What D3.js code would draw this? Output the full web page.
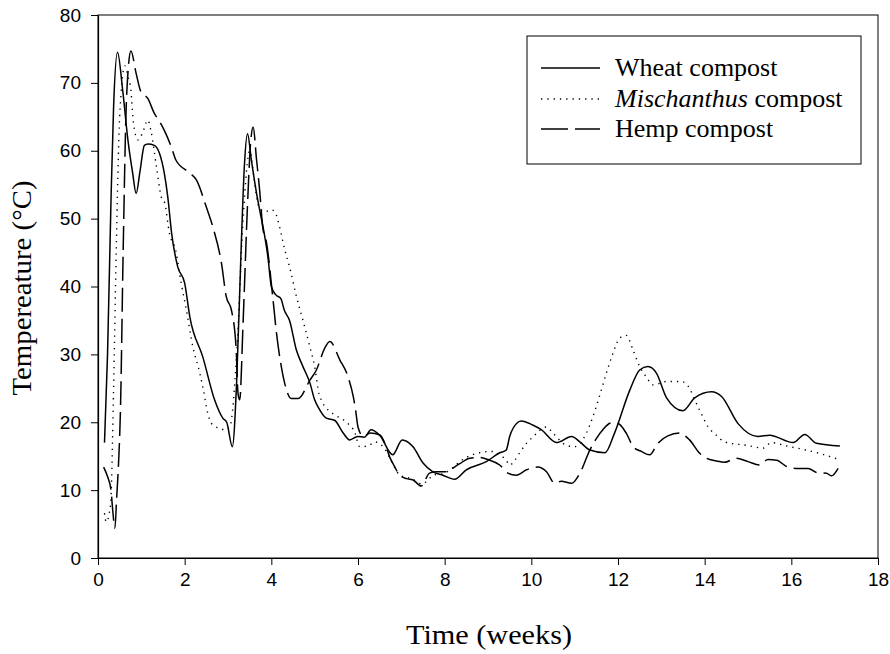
<!DOCTYPE html>
<html>
<head>
<meta charset="utf-8">
<script src="https://cdn.jsdelivr.net/npm/d3@7"></script>
<style>
  body { margin: 0; background: #fff; }
  svg { display: block; }
</style>
</head>
<body>
<svg id="chart" width="890" height="654"></svg>
<script>
// ---- Data (time in weeks, temperature in °C) ----
const wheatT = [0.15,0.22,0.30,0.36,0.45,0.57,0.69,0.80,0.88,0.97,1.07,1.15,1.30,1.42,1.53,1.61,1.70,1.84,2.00,2.12,2.42,2.69,2.88,2.97,3.10,3.20,3.30,3.38,3.45,3.54,3.66,3.73,3.85,3.92,4.00,4.10,4.22,4.30,4.42,4.58,4.73,4.89,5.00,5.10,5.27,5.46,5.65,5.81,5.99,6.15,6.30,6.50,6.80,7.02,7.27,7.50,7.73,7.96,8.23,8.50,8.96,9.27,9.42,9.50,9.69,9.77,10.03,10.23,10.58,10.93,11.12,11.35,11.70,11.92,12.27,12.50,12.69,12.89,13.12,13.50,13.77,14.16,14.39,14.77,15.23,15.50,16.04,16.31,16.58,17.12];
const wheatV = [17,30,52.7,66.5,74.5,68.9,61.6,56.7,53.7,57,60.8,61,60.8,59.6,56.7,53.2,47.8,42.9,40.5,35.5,29.6,23.3,20.6,20,16.4,26,45,58,62.5,58.6,53.7,51.3,47.3,44.4,40,38.8,38.2,36.5,35,30.6,28.2,25.8,23.3,22,20.6,20.3,18.5,17.4,17.9,17.8,18.9,18.1,15.2,17.4,16.4,14,12.7,12.2,11.6,13,14.2,15.5,15.9,17.9,20,20.2,19.6,18.9,17,17.9,17.1,15.9,15.5,18.4,24.7,27.7,28.2,27.2,23.6,21.7,23.6,24.5,23.8,19.8,17.9,18.1,17,18.2,16.9,16.5];

const miscT = [0.15,0.19,0.26,0.30,0.36,0.42,0.50,0.62,0.69,0.76,0.82,0.92,1.02,1.15,1.22,1.35,1.46,1.54,1.65,1.79,1.92,2.04,2.19,2.35,2.46,2.50,2.65,2.96,3.05,3.20,3.35,3.50,3.60,3.70,3.85,4.00,4.08,4.19,4.31,4.42,4.58,4.73,4.89,5.00,5.10,5.15,5.31,5.46,5.77,5.92,6.04,6.23,6.39,6.58,6.85,6.96,7.12,7.35,7.46,7.62,7.73,7.96,8.15,8.35,8.73,9.08,9.27,9.42,9.50,9.62,9.73,9.89,10.03,10.35,10.50,10.81,11.00,11.27,11.42,11.58,11.73,11.88,12.04,12.19,12.35,12.50,12.65,12.81,13.12,13.46,13.65,13.77,13.92,14.08,14.27,14.46,14.96,15.35,15.54,15.89,16.27,16.66,17.05];
const miscV = [6.6,5.3,6.6,9,25,45,65,72.5,71,68.9,64,61.6,62.5,64.5,63,57.6,53.2,52.3,47.8,45.4,40.5,36.5,31.1,27.2,23.8,22.3,19.6,18.9,19.5,30,50,60,56,52,51,51.3,51,48.8,45.4,42.9,38.5,35,31.1,28.2,24.2,23.3,21.8,21.1,19.8,18.6,16.4,16.5,17.1,16.4,13.3,12.2,11.9,11.3,10.9,11.5,12.2,12.4,13.1,14.2,15.4,15.7,15.2,14.4,13.7,14.4,15.5,16.9,17.8,19.3,18.4,16.6,16.4,18.4,20.8,24,27.2,30.1,32.4,32.8,30.6,28.2,26.7,25.5,26,26,25,23.3,21.3,19.3,18.1,17.1,16.6,16.2,17,16.5,16,15.4,14.6];

const hempT = [0.13,0.22,0.30,0.34,0.39,0.43,0.47,0.52,0.58,0.66,0.76,0.88,0.99,1.15,1.30,1.42,1.53,1.69,1.80,2.12,2.27,2.50,2.65,2.85,2.96,3.08,3.19,3.23,3.27,3.35,3.45,3.52,3.58,3.66,3.73,3.80,3.89,4.04,4.12,4.23,4.31,4.46,4.62,4.89,5.04,5.23,5.35,5.58,5.77,5.89,5.94,6.00,6.12,6.28,6.51,6.62,6.73,6.85,6.96,7.12,7.27,7.46,7.55,7.65,7.81,8.04,8.15,8.35,8.58,8.81,9.00,9.27,9.46,9.65,9.89,10.15,10.35,10.54,10.69,10.93,11.12,11.35,11.50,11.65,11.85,12.00,12.19,12.35,12.54,12.73,12.92,13.15,13.42,13.65,13.89,14.04,14.27,14.46,14.73,15.00,15.27,15.46,15.66,15.92,16.15,16.39,16.58,16.81,16.93,17.08];
const hempV = [13.4,12,10,7,4.4,8.8,13.4,22.3,45,68,74.7,71.4,68.7,67.7,65.5,64.3,63,60.6,58.6,56.7,55.7,51.7,48.8,43.4,38.5,36.5,30.6,24.3,23.3,35,52,61,63.5,58.6,54.2,48.8,46.4,38,33.1,28.2,25.7,23.5,23.5,26.2,27.7,30.9,31.9,29.2,26.7,23.8,22,19.3,17.9,18.4,18.1,16.9,14.9,13.4,12.2,11.7,11.5,10.6,11.5,12.5,12.7,12.7,13.1,13.9,14.7,14.8,14.5,13.7,12.5,12.2,13,13.4,12.7,11,11.3,11,12.5,15.9,17.6,18.9,19.9,19.8,18.4,16.4,15.7,15.2,16.9,18,18.4,17.4,15.4,14.7,14.3,14.1,14.7,14.2,13.7,14.5,14.4,13.4,13.2,13.2,12.6,12.5,12.1,13.2];

const seriesNames = ["Wheat compost", "Mischanthus compost", "Hemp compost"];
const xTicks = [0,2,4,6,8,10,12,14,16,18];
const yTicks = [0,10,20,30,40,50,60,70,80];

// ---- Layout ----
const svg = d3.select("#chart");
const L = 98, R = 878, T = 15, B = 558;
const x = d3.scaleLinear().domain([0, 18]).range([L, R]);
const y = d3.scaleLinear().domain([0, 80]).range([B, T]);

const styles = [
  { dash: null, width: 1.5 },
  { dash: "1.3,5", width: 1.4 },
  { dash: "24,7", width: 1.5 }
];

const series = [
  wheatT.map((t, i) => [t, wheatV[i]]),
  miscT.map((t, i) => [t, miscV[i]]),
  hempT.map((t, i) => [t, hempV[i]])
];

const line = d3.line()
  .x(d => x(d[0]))
  .y(d => y(d[1]))
  .curve(d3.curveMonotoneX);

// frame
svg.append("rect")
  .attr("x", L).attr("y", T)
  .attr("width", R - L).attr("height", B - T)
  .attr("fill", "none").attr("stroke", "#000").attr("stroke-width", 1);

// axes
const xAxis = svg.append("g")
  .attr("transform", `translate(0,${B})`)
  .call(d3.axisBottom(x).tickValues(xTicks).tickSize(7).tickSizeOuter(0).tickPadding(8).tickFormat(d3.format("d")));
const yAxis = svg.append("g")
  .attr("transform", `translate(${L},0)`)
  .call(d3.axisLeft(y).tickValues(yTicks).tickSize(7).tickSizeOuter(0).tickPadding(10).tickFormat(d3.format("d")));

[xAxis, yAxis].forEach(g => {
  g.select(".domain").attr("stroke", "#000").attr("stroke-width", 1.2);
  g.selectAll(".tick line").attr("stroke", "#000").attr("stroke-width", 1);
  g.selectAll(".tick text")
    .attr("fill", "#000")
    .style("font-family", "'Liberation Sans', Arial, sans-serif")
    .style("font-size", "19px");
});

// lines
series.forEach((s, i) => {
  svg.append("path")
    .datum(s)
    .attr("fill", "none")
    .attr("stroke", "#000")
    .attr("stroke-width", styles[i].width)
    .attr("stroke-dasharray", styles[i].dash)
    .attr("d", line);
});

// axis titles
svg.append("text")
  .attr("x", 489).attr("y", 644)
  .attr("text-anchor", "middle")
  .attr("textLength", 166)
  .attr("lengthAdjust", "spacingAndGlyphs")
  .style("font-family", "'Liberation Serif', 'Times New Roman', serif")
  .style("font-size", "28px")
  .text("Time (weeks)");

svg.append("text")
  .attr("transform", "translate(31,288) rotate(-90)")
  .attr("text-anchor", "middle")
  .attr("textLength", 215)
  .attr("lengthAdjust", "spacingAndGlyphs")
  .style("font-family", "'Liberation Serif', 'Times New Roman', serif")
  .style("font-size", "28px")
  .text("Tempereature (°C)");

// legend
const lg = svg.append("g");
lg.append("rect")
  .attr("x", 527).attr("y", 36).attr("width", 334).attr("height", 128)
  .attr("fill", "#fff").attr("stroke", "#000").attr("stroke-width", 1);
const rowY = [68, 99, 129];
seriesNames.forEach((name, i) => {
  lg.append("line")
    .attr("x1", 541).attr("x2", 600)
    .attr("y1", rowY[i]).attr("y2", rowY[i])
    .attr("stroke", "#000")
    .attr("stroke-width", styles[i].width)
    .attr("stroke-dasharray", i === 2 ? "27,7" : styles[i].dash);
  const t = lg.append("text")
    .attr("x", 615).attr("y", rowY[i] + 8)
    .style("font-family", "'Liberation Serif', 'Times New Roman', serif")
    .style("font-size", "26px");
  if (i === 1) {
    t.append("tspan").style("font-style", "italic").text("Mischanthus");
    t.append("tspan").text(" compost");
  } else {
    t.text(name);
  }
});
</script>
</body>
</html>
